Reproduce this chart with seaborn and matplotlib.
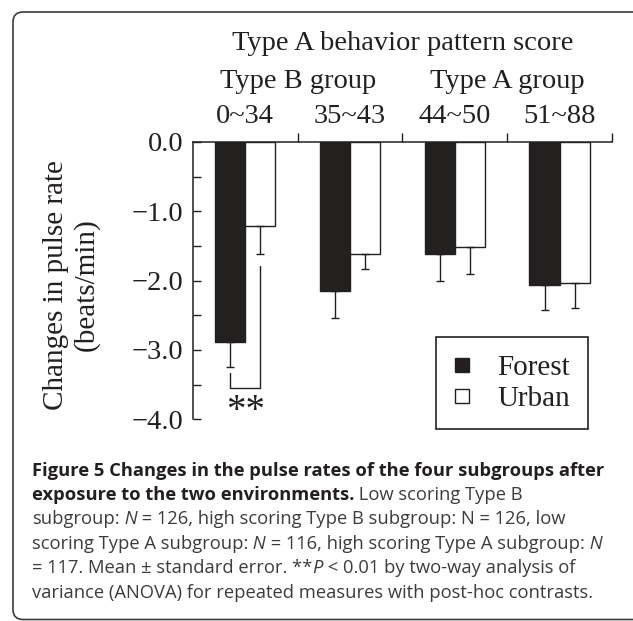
import matplotlib
matplotlib.use("Agg")
import matplotlib.pyplot as plt
import seaborn as sns
import pandas as pd
import numpy as np
from matplotlib.patches import FancyBboxPatch
from matplotlib.lines import Line2D
from matplotlib.transforms import IdentityTransform

# --- data ---
score_ranges = ["0~34", "35~43", "44~50", "51~88"]
environments = ["Forest", "Urban"]
forest_change = [-2.88, -2.15, -1.62, -2.07]
urban_change = [-1.21, -1.61, -1.52, -2.03]
forest_se = [0.36, 0.39, 0.38, 0.35]
urban_se = [0.41, 0.22, 0.39, 0.37]
group_labels = ["Type B group", "Type A group"]
y_ticks = [0.0, -1.0, -2.0, -3.0, -4.0]

df = pd.DataFrame({
    "score": score_ranges * 2,
    "env": [environments[0]] * 4 + [environments[1]] * 4,
    "change": forest_change + urban_change,
})

INK = "#231f20"

sns.set_style("ticks")
plt.rcParams["font.family"] = ["Liberation Serif", "DejaVu Serif"]

fig = plt.figure(figsize=(6.33, 6.21), dpi=100)
ax = fig.add_axes([0.3049, 0.3250, 0.6619, 0.4464])

sns.barplot(data=df, x="score", y="change", hue="env",
            order=score_ranges, hue_order=environments,
            palette={"Forest": INK, "Urban": "white"},
            edgecolor=INK, linewidth=1.0, width=0.575,
            errorbar=None, legend=False, ax=ax)

# one-sided (downward) standard error bars
centers = []
for cont, vals, se in zip(ax.containers, [forest_change, urban_change], [forest_se, urban_se]):
    xs = [b.get_x() + b.get_width() / 2 for b in cont]
    centers.append(xs)
    ax.errorbar(xs, vals, yerr=[se, np.zeros(len(se))], fmt="none",
                ecolor=INK, elinewidth=1.0, capsize=3, capthick=1.0)

# axes styling
ax.set_xlim(-0.5, 3.5)
ax.set_ylim(-4, 0)
ax.set_yticks(y_ticks)
ax.set_yticklabels([f"{v:.1f}".replace("-", "\u2212") for v in y_ticks])
ax.set_yticks(np.arange(-3.5, 0, 1.0), minor=True)
ax.set_xticks(np.arange(0.5, 4, 1.0), minor=True)

ax.xaxis.tick_top()
ax.set_xlabel("")
ax.tick_params(axis="x", which="major", length=0, pad=9.4, labelsize=20.5,
               top=True, bottom=False, labeltop=True, labelbottom=False, colors=INK)
ax.tick_params(axis="x", which="minor", length=6.5, width=1.0, direction="out",
               top=True, bottom=False, color=INK)
ax.tick_params(axis="y", which="both", direction="in", length=5.5, width=1.0,
               left=True, right=False, color=INK)
ax.tick_params(axis="y", which="major", labelsize=20.5, pad=7, labelcolor=INK)

for side in ["right", "bottom"]:
    ax.spines[side].set_visible(False)
for side in ["left", "top"]:
    ax.spines[side].set_linewidth(1.1)
    ax.spines[side].set_color(INK)

ax.set_ylabel("Changes in pulse rate\n(beats/min)", fontsize=21, linespacing=1.15, color=INK)
ax.yaxis.set_label_coords(-0.29, 0.485)
ax.yaxis.label.set_va("center")

# group headers above the bars
xt = ax.get_xaxis_transform()
ax.text(1.5, 1.332, "Type A behavior pattern score", transform=xt,
        ha="center", va="baseline", fontsize=20.5, color=INK)
for x, lab in zip([0.5, 2.5], group_labels):
    ax.text(x, 1.195, lab, transform=xt, ha="center", va="baseline",
            fontsize=20.5, color=INK)

# significance bracket for the 0~34 group
fx, ux = centers[0][0], centers[1][0]
bracket_y = -3.55
ax.plot([fx, fx, ux, ux],
        [forest_change[0] - forest_se[0] - 0.1, bracket_y, bracket_y,
         urban_change[0] - urban_se[0] - 0.17],
        color=INK, lw=1.0, clip_on=False)
ax.text(0, -4.02, "**", ha="center", va="baseline", fontsize=28, color=INK)

# legend with square markers
handles = [Line2D([], [], ls="none", marker="s", markersize=9.4,
                  markerfacecolor=c, markeredgecolor=INK, markeredgewidth=1.0)
           for c in [INK, "white"]]
leg = ax.legend(handles, environments, loc="upper left", bbox_to_anchor=(0.58, 0.297),
                borderaxespad=0, fontsize=21, frameon=True, fancybox=False,
                edgecolor=INK, framealpha=1, borderpad=0.6, handlelength=0.55,
                handletextpad=0.95, labelspacing=0.16)
leg.get_frame().set_linewidth(1.2)
for t in leg.get_texts():
    t.set_color(INK)

# caption
caption_lines = [
    [("Figure 5 Changes in the pulse rates of the four subgroups after", "bold")],
    [("exposure to the two environments.", "bold"), (" Low scoring Type B", "regular")],
    [("subgroup:", "regular"), (" N", "italic"),
     (" = 126, high scoring Type B subgroup: N = 126, low", "regular")],
    [("scoring Type A subgroup:", "regular"), (" N", "italic"),
     (" = 116, high scoring Type A subgroup:", "regular"), (" N", "italic")],
    [("= 117. Mean \u00b1 standard error. **", "regular"), ("P", "italic"),
     (" < 0.01 by two-way analysis of", "regular")],
    [("variance (ANOVA) for repeated measures with post-hoc contrasts.", "regular")],
]
styles = {
    "bold": dict(weight="bold", color=INK),
    "regular": dict(color="#3c3c3c"),
    "italic": dict(style="italic", color="#3c3c3c"),
}
baselines = [476, 500, 524.5, 549, 573, 598]
for line, base in zip(caption_lines, baselines):
    prev = None
    for text, kind in line:
        kw = dict(family=["Open Sans", "DejaVu Sans"], fontsize=13.2, **styles[kind])
        if prev is None:
            prev = fig.text(32 / 633, 1 - base / 621, text, ha="left", va="baseline", **kw)
        else:
            prev = ax.annotate(text, xy=(1, 0), xycoords=prev, ha="left", va="bottom",
                               annotation_clip=False, **kw)

# rounded frame around the figure panel
frame = FancyBboxPatch((13, 1.5), 700, 607.5, boxstyle="round,pad=0,rounding_size=10",
                       transform=IdentityTransform(), fill=False,
                       edgecolor="#3c3c3c", linewidth=1.2)
fig.add_artist(frame)

fig.savefig("out.png", dpi=100)
